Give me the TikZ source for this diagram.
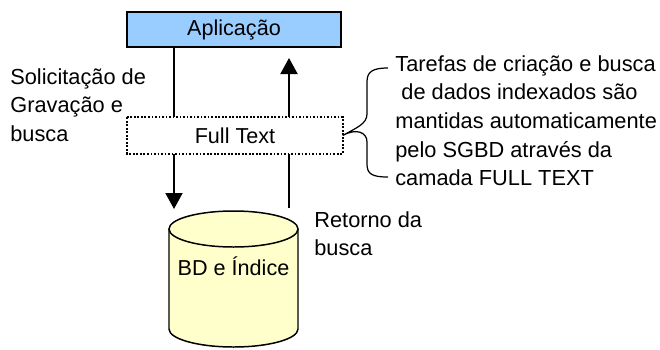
\documentclass[tikz,border=0pt]{standalone}
\usepackage{fontspec}
\setmainfont{Liberation Sans}
\usetikzlibrary{arrows.meta}

\definecolor{appblue}{RGB}{153,204,255}
\definecolor{dbyellow}{RGB}{255,255,204}

\begin{document}
\begin{tikzpicture}[x=0.02cm, y=-0.02cm,
        font=\fontsize{12.3}{15.5}\selectfont,
        caixa/.style={draw, line width=0.85pt, minimum width=4.28cm, minimum height=0.7cm, inner sep=0pt},
        rotulo/.style={anchor=north west, align=left, inner sep=0pt, font=\fontsize{12.4}{16.3}\selectfont},
        linha/.style={line width=1.1pt},
        seta/.style={line width=1.1pt, -{Triangle[length=0.32cm, width=0.34cm]}}]
        \useasboundingbox (0,0) rectangle (660,349);

        \node[caixa, fill=appblue] (app) at (234, 29.5) {Aplicação};
        \node[caixa, draw=none] (ft) at (235, 135.5) {Full Text};
        \draw[line width=1pt, densely dotted] (ft.north west) rectangle (ft.south east);

        % banco de dados
        \draw[line width=0.85pt, fill=dbyellow] (169,229) -- (169,329) arc[start angle=180, end angle=0, x radius=64.5, y radius=18] -- (298,229);
        \draw[line width=0.85pt, fill=dbyellow] (233.5,229) ellipse[x radius=64.5, y radius=18];
        \node (db) at (233.5, 266) {BD e Índice};

        \coordinate (lx) at (174, 0);
        \coordinate (rx) at (289, 0);
        \coordinate (dbin) at (174, 209);
        \coordinate (dbout) at (289, 208);
        \coordinate (appin) at (289, 58);

        \draw[linha] (app.south -| lx) -- (ft.north -| lx);
        \draw[seta] (ft.south -| lx) -- (dbin);
        \draw[linha] (dbout) -- (ft.south -| rx);
        \draw[seta] (ft.north -| rx) -- (appin);

        \node[rotulo] (solic) at (10, 68) {Solicitação de\\Gravação e\\busca};
        \node[rotulo] (ret) at (314, 211) {Retorno da\\busca};
        \node[rotulo] (nota) at (395, 55) {Tarefas de criação e busca\\\ de dados indexados são\\mantidas automaticamente\\pelo SGBD através da\\camada FULL TEXT};

        \draw[line width=0.7pt] (388,68) .. controls (372,68) and (367,72) .. (367,82) -- (367,114)
            .. controls (367,124) and (356,128) .. (ft.east)
            .. controls (356,128) and (367,132) .. (367,142) -- (367,164)
            .. controls (367,174) and (372,177) .. (388,177);

    \end{tikzpicture}
\end{document}
